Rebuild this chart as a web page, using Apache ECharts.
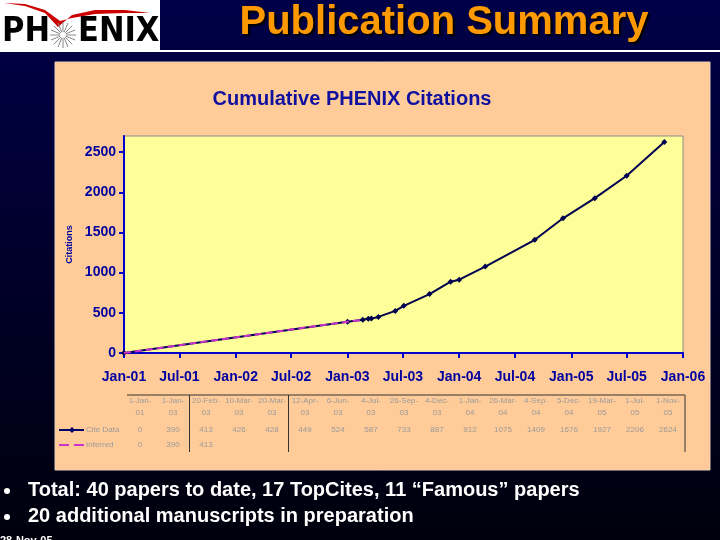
<!DOCTYPE html>
<html><head><meta charset="utf-8">
<script src="https://cdn.jsdelivr.net/npm/echarts@6/dist/echarts.min.js"></script>
<style>html,body{margin:0;padding:0;background:#000}#c{width:720px;height:540px}</style>
</head><body><div id="c"></div>
<script>
// ---- data ----
const citeDates = ['2001-01-01','2003-01-01','2003-02-20','2003-03-10','2003-03-20','2003-04-12','2003-06-06','2003-07-04','2003-09-26','2003-12-04','2004-01-01','2004-03-26','2004-09-04','2004-12-05','2005-03-19','2005-07-01','2005-11-01'];
const citeValues = [0,390,413,426,428,449,524,587,733,887,912,1075,1409,1676,1927,2206,2624];
const inferredDates = ['2001-01-01','2003-01-01','2003-02-20'];
const inferredValues = [0,390,413];
const xTickDates = ['2001-01-01','2001-07-01','2002-01-01','2002-07-01','2003-01-01','2003-07-01','2004-01-01','2004-07-01','2005-01-01','2005-07-01','2006-01-01'];
const yTicks = [0,500,1000,1500,2000,2500];
const monthNames = ['Jan','Feb','Mar','Apr','May','Jun','Jul','Aug','Sep','Oct','Nov','Dec'];
const bullets = ['Total: 40 papers to date, 17 TopCites, 11 \u201cFamous\u201d papers','20 additional manuscripts in preparation'];
const chartTitle = 'Cumulative PHENIX Citations';
const slideTitle = 'Publication Summary';
const footDate = '28-Nov-05';

function ts(s){ const p=s.split('-'); return new Date(+p[0], +p[1]-1, +p[2]).getTime(); }
function yy(d){ return String(d.getFullYear()%100).padStart(2,'0'); }
function fmtAxis(v){ const d=new Date(v); return monthNames[d.getMonth()]+'-'+yy(d); }

const chart = echarts.init(document.getElementById('c'));
const FONT = '"Liberation Sans", Arial, sans-serif';
const NARROW = '"Liberation Sans Narrow", "Arial Narrow", "DejaVu Sans Condensed", sans-serif';
const BLUE = '#0000A0';

const g = [];
// logo
g.push({type:'rect', shape:{x:0,y:0,width:160,height:50}, style:{fill:'#fff'}, z:100});
g.push({type:'polygon', shape:{points:[[4,3],[25,6],[45,13],[58,27],[72,15],[95,10],[125,10],[150,13],[125,13],[95,14],[72,18],[60,21],[45,10],[25,4]]}, style:{fill:'#CC0000'}, z:101});
g.push({type:'text', style:{text:'PH', x:2, y:49, font:'bold 34px '+NARROW, fill:'#000', textVerticalAlign:'bottom'}, z:101});
for(let k=0;k<16;k++){ const a=k*Math.PI/8; g.push({type:'line', shape:{x1:63+3*Math.cos(a),y1:35+3*Math.sin(a),x2:63+13*Math.cos(a),y2:35+13*Math.sin(a)}, style:{stroke:'#888',lineWidth:1}, z:101}); }
g.push({type:'text', style:{text:'ENIX', x:78, y:49, font:'bold 34px '+NARROW, fill:'#000', textVerticalAlign:'bottom'}, z:101});
// slide title
g.push({type:'text', style:{text:slideTitle, x:444, y:23, font:'bold 40px '+FONT, fill:'#FF9900', textAlign:'center', textVerticalAlign:'middle', textShadowColor:'#000', textShadowBlur:2, textShadowOffsetX:2, textShadowOffsetY:2}, z:101});
g.push({type:'line', shape:{x1:0,y1:51,x2:720,y2:51}, style:{stroke:'#fff',lineWidth:2}, z:100});
// panel
g.push({type:'rect', shape:{x:55,y:62,width:655,height:408}, style:{fill:'#FFCC99', stroke:'#E8D0C0', lineWidth:1}, z:-10});
g.push({type:'text', style:{text:chartTitle, x:352, y:99, font:'bold 20px '+FONT, fill:'#1010A0', textAlign:'center', textVerticalAlign:'middle'}, z:100});
// data table
const colX = i => 140 + 33*i;
const tStyle = {font:'8px '+FONT, fill:'#9a9a9a', textAlign:'center', textVerticalAlign:'middle'};
citeDates.forEach((s,i)=>{
  const d = new Date(ts(s));
  g.push({type:'text', style:Object.assign({}, tStyle, {text:d.getDate()+'-'+monthNames[d.getMonth()]+'-', x:colX(i), y:401}), z:100});
  g.push({type:'text', style:Object.assign({}, tStyle, {text:yy(d), x:colX(i), y:413}), z:100});
  g.push({type:'text', style:Object.assign({}, tStyle, {text:String(citeValues[i]), x:colX(i), y:430}), z:100});
});
inferredValues.forEach((v,i)=>{
  g.push({type:'text', style:Object.assign({}, tStyle, {text:String(v), x:colX(i), y:445}), z:100});
});
const lineSt = {stroke:'#333', lineWidth:1};
g.push({type:'line', shape:{x1:127,y1:395,x2:685,y2:395}, style:lineSt, z:100});
[189.5, 288.5, 685].forEach(x=>g.push({type:'line', shape:{x1:x,y1:395,x2:x,y2:452}, style:lineSt, z:100}));
// legend keys
g.push({type:'line', shape:{x1:59,y1:430,x2:84,y2:430}, style:{stroke:'#000066',lineWidth:2}, z:100});
g.push({type:'polygon', shape:{points:[[72,427],[75,430],[72,433],[69,430]]}, style:{fill:'#000066'}, z:100});
g.push({type:'text', style:Object.assign({}, tStyle, {text:'Cite Data', x:86, y:430, textAlign:'left'}), z:100});
g.push({type:'line', shape:{x1:59,y1:445,x2:84,y2:445}, style:{stroke:'#CC33CC',lineWidth:2, lineDash:[10,5]}, z:100});
g.push({type:'text', style:Object.assign({}, tStyle, {text:'Inferred', x:86, y:445, textAlign:'left'}), z:100});
// bullets
bullets.forEach((b,i)=>{
  const y = 490 + 26*i;
  g.push({type:'circle', shape:{cx:7,cy:y+1,r:3}, style:{fill:'#fff'}, z:100});
  g.push({type:'text', style:{text:b, x:28, y:y, font:'bold 20px '+FONT, fill:'#fff', textVerticalAlign:'middle'}, z:100});
});
g.push({type:'text', style:{text:footDate, x:0, y:535, font:'bold 11px '+FONT, fill:'#fff', textVerticalAlign:'top'}, z:100});

chart.setOption({
  animation:false,
  backgroundColor:{type:'linear', x:0,y:0,x2:0,y2:1, colorStops:[{offset:0,color:'#000048'},{offset:1,color:'#00000c'}]},
  graphic:{elements:g},
  grid:{left:124, right:37, top:136, bottom:187, show:true, backgroundColor:'#FFFF99', borderColor:'#8a8a8a', borderWidth:1},
  xAxis:{
    type:'value', min:ts(xTickDates[0]), max:ts(xTickDates[xTickDates.length-1]),
    axisLine:{show:true, lineStyle:{color:'#0000CC', width:2}},
    axisTick:{show:true, length:5, lineStyle:{color:'#0000CC', width:2}, customValues:xTickDates.map(ts)},
    axisLabel:{customValues:xTickDates.map(ts), formatter:fmtAxis, color:BLUE, fontWeight:'bold', fontSize:14, fontFamily:FONT, margin:17, hideOverlap:false},
    splitLine:{show:false}
  },
  yAxis:{
    type:'value', min:0, max:2700,
    name:'Citations', nameLocation:'middle', nameGap:50, nameRotate:90,
    nameTextStyle:{fontSize:9, fontWeight:'bold', color:BLUE, fontFamily:FONT},
    axisLine:{show:true, lineStyle:{color:'#0000CC', width:2}},
    axisTick:{show:true, length:5, lineStyle:{color:'#0000CC', width:2}, customValues:yTicks},
    axisLabel:{customValues:yTicks, formatter:v=>String(v), color:BLUE, fontWeight:'bold', fontSize:14, fontFamily:FONT, margin:8},
    splitLine:{show:false}
  },
  series:[
    {name:'Cite Data', type:'line', data:citeDates.map((d,i)=>[ts(d), citeValues[i]]), symbol:'diamond', symbolSize:6, showAllSymbol:true,
     lineStyle:{color:'#000050', width:2}, itemStyle:{color:'#000050'}, z:2},
    {name:'Inferred', type:'line', data:inferredDates.map((d,i)=>[ts(d), inferredValues[i]]), symbol:'none',
     lineStyle:{color:'#CC33CC', width:2, type:[7,4]}, z:3}
  ]
});
</script></body></html>
